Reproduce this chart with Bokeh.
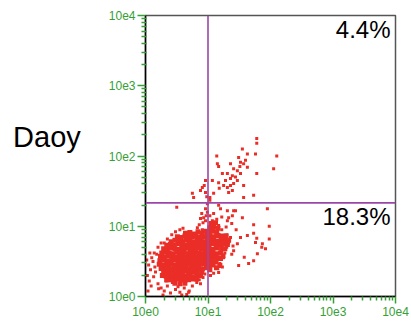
import numpy as np
from bokeh.plotting import figure
from bokeh.models import Range1d, FixedTicker, Span, Label
from bokeh.embed import file_html
from bokeh.resources import INLINE

# ---- chart texts / gates ----
sample_name = "Daoy"
quad_upper_right = "4.4%"
quad_lower_right = "18.3%"
x_gate = 10.0
y_gate = 21.5
tick_values = [1, 10, 100, 1000, 10000]
tick_labels = ["10e0", "10e1", "10e2", "10e3", "10e4"]

# ---- events as log10 (decade) intensities ----
# dense main population
core_x = [0.64,0.71,0.77,0.84,0.90,0.96,
          0.51,0.57,0.63,0.69,0.75,0.81,0.87,0.93,0.98,
          0.41,0.47,0.53,0.59,0.65,0.71,0.77,0.83,0.89,0.95,0.99,
          0.34,0.40,0.46,0.52,0.58,0.64,0.70,0.76,0.82,0.88,0.94,0.99,
          0.29,0.35,0.41,0.47,0.53,0.59,0.65,0.71,0.77,0.83,0.89,0.95,0.99,
          0.26,0.32,0.38,0.44,0.50,0.56,0.62,0.68,0.74,0.80,0.86,0.92,0.98,
          0.24,0.30,0.36,0.42,0.48,0.54,0.60,0.66,0.72,0.78,0.84,0.90,0.96,0.99,
          0.23,0.29,0.35,0.41,0.47,0.53,0.59,0.65,0.71,0.77,0.83,0.89,0.95,0.99,
          0.22,0.28,0.34,0.40,0.46,0.52,0.58,0.64,0.70,0.76,0.82,0.88,0.94,0.99,
          0.25,0.31,0.37,0.43,0.49,0.55,0.61,0.67,0.73,0.79,0.85,0.91,0.97,
          0.29,0.35,0.41,0.47,0.53,0.59,0.65,0.71,0.77,0.83,0.90,
          0.33,0.39,0.45,0.51,0.57,0.63,0.69,0.75,0.82,
          0.39,0.45,0.51,0.57,0.63,0.69,0.76,
          0.47,0.55,0.63,
          0.34,0.82,0.88,0.27,
          1.02,1.08,1.14,
          1.03,1.09,1.16,1.23,
          1.02,1.08,1.14,1.21,1.28,
          1.01,1.07,1.13,1.20,1.26,
          1.02,1.08,1.15,1.22,
          1.01,1.07,1.13,1.20,
          1.02,1.08,1.15,
          1.01,1.07,1.13,
          1.02,1.08,
          1.03,
          1.03,1.09,1.16,1.05,1.12,1.29,1.33,1.31,1.27,1.24,1.20,1.19,1.14]
core_y = [0.90,0.91,0.89,0.92,0.90,0.93,
          0.85,0.84,0.86,0.84,0.85,0.86,0.84,0.85,0.87,
          0.78,0.80,0.79,0.78,0.80,0.79,0.78,0.80,0.79,0.78,0.81,
          0.73,0.74,0.73,0.75,0.74,0.73,0.74,0.73,0.75,0.74,0.73,0.74,
          0.68,0.67,0.69,0.68,0.67,0.68,0.69,0.67,0.68,0.69,0.68,0.67,0.69,
          0.62,0.63,0.62,0.61,0.63,0.62,0.63,0.61,0.62,0.63,0.62,0.61,0.63,
          0.57,0.56,0.58,0.57,0.56,0.57,0.58,0.56,0.57,0.58,0.56,0.57,0.58,0.57,
          0.51,0.52,0.51,0.50,0.52,0.51,0.52,0.50,0.51,0.52,0.51,0.50,0.52,0.51,
          0.46,0.45,0.47,0.46,0.45,0.46,0.47,0.45,0.46,0.47,0.45,0.46,0.47,0.46,
          0.40,0.41,0.40,0.39,0.41,0.40,0.41,0.39,0.40,0.41,0.40,0.39,0.41,
          0.35,0.34,0.36,0.35,0.34,0.35,0.36,0.34,0.35,0.36,0.35,
          0.29,0.30,0.29,0.28,0.30,0.29,0.30,0.28,0.30,
          0.24,0.23,0.25,0.24,0.23,0.24,0.25,
          0.19,0.18,0.19,
          0.24,0.25,0.30,0.30,
          0.92,0.93,0.91,
          0.86,0.85,0.87,0.86,
          0.80,0.81,0.79,0.80,0.81,
          0.74,0.75,0.73,0.74,0.75,
          0.68,0.67,0.69,0.68,
          0.62,0.63,0.61,0.62,
          0.56,0.57,0.55,
          0.50,0.51,0.49,
          0.44,0.45,
          0.38,
          0.98,0.99,0.97,1.04,1.05,0.86,0.80,0.74,0.68,0.58,0.54,0.44,0.41]

# sparse events around the main population
edge_x = [0.05,0.08,0.03,0.12,0.10,0.15,0.06,0.13,0.18,0.02,0.09,0.04,0.16,0.20,0.14,0.07,
          0.25,0.30,0.35,0.40,0.48,0.55,0.62,0.70,0.58,0.43,0.75,0.82,0.88,0.52,0.66,0.33,
          0.20,0.28,0.21,0.69,0.25,0.35,0.42,0.30,0.48,0.55,0.60,0.92,0.86,0.95,0.80,
          0.86,0.92,0.97,0.90,0.99,0.50]
edge_y = [0.45,0.38,0.30,0.50,0.55,0.42,0.22,0.28,0.60,0.52,0.15,0.08,0.35,0.70,0.62,0.62,
          0.12,0.08,0.15,0.05,0.10,0.06,0.12,0.08,0.02,0.20,0.15,0.20,0.18,0.14,0.03,0.22,
          0.18,0.02,0.11,0.06,0.76,0.82,0.88,0.76,0.92,0.95,0.97,0.27,0.24,0.32,0.26,
          1.02,1.05,1.15,1.18,1.20,1.27]

# events right of the x gate, below the y gate
right_x = [1.30,1.27,1.33,1.25,1.19,1.30,1.36,1.22,1.29,1.17,1.10,1.04,1.07,1.14,1.22,1.33,
           1.03,1.38,1.12,1.17,1.09,1.04,1.23,1.38,1.41,1.47,1.52,1.63,1.73,1.73,1.78,1.76,
           1.87,1.86,1.98,1.98,1.95,1.92,1.79,1.73,1.65,1.49,1.39,1.55,1.44,1.20,1.09,1.31,
           1.31,1.41,1.17,0.96,0.93,0.88,0.96,0.83,0.91,1.45,1.40,1.58]
right_y = [0.70,0.62,0.76,0.55,0.47,0.88,0.84,0.95,0.99,1.01,1.03,0.99,1.08,1.10,1.13,1.12,
           1.15,1.04,0.40,0.34,0.33,0.30,0.42,0.60,0.65,0.75,0.84,0.87,0.90,1.02,0.83,0.77,
           0.75,0.70,0.82,1.00,1.25,0.68,0.61,0.51,0.47,0.44,1.15,1.12,1.22,1.25,1.18,1.08,
           1.22,1.22,1.30,1.25,1.12,1.11,1.08,0.98,0.95,0.95,0.72,0.56]

# events above the y gate
upper_x = [1.78,1.78,1.55,1.63,2.10,2.05,1.76,1.14,1.49,1.52,1.57,1.60,1.36,1.78,1.15,1.17,
           1.41,1.47,1.31,1.23,1.39,1.44,1.47,1.36,1.28,1.17,1.07,1.25,1.31,1.36,1.39,1.33,
           1.57,1.73,1.57,0.96,0.91,0.88,0.75,0.77,0.96,0.98,1.03,1.03,0.99,1.09,1.18,1.41,
           1.52,1.63,1.51,0.94]
upper_y = [2.25,2.18,2.10,2.03,2.00,1.82,2.03,2.00,1.98,1.91,1.89,1.94,1.89,1.75,1.89,1.85,
           1.82,1.79,1.75,1.75,1.72,1.70,1.65,1.68,1.65,1.62,1.65,1.58,1.55,1.58,1.51,1.48,
           1.58,1.44,1.41,1.65,1.55,1.51,1.47,1.41,1.48,1.42,1.41,1.37,1.32,1.47,1.54,1.61,
           1.75,1.84,1.85,1.58]

red = "#ea2e27"
green = "#35a035"
purple = "#9c47a8"

p = figure(frame_width=250, frame_height=281,
           x_axis_type="log", y_axis_type="log",
           x_range=Range1d(1, 10000), y_range=Range1d(1, 10000),
           output_backend="svg", toolbar_location=None,
           min_border_left=145, min_border_right=16,
           min_border_top=15, min_border_bottom=25,
           background_fill_color="white", border_fill_color="white")
p.grid.visible = False
p.outline_line_color = "#555555"
p.outline_line_width = 1.5

minor = []
for base in tick_values[:-1]:
    for m in range(2, 10):
        minor.append(base * m)

for ax in (p.xaxis[0], p.yaxis[0]):
    ax.ticker = FixedTicker(ticks=tick_values, minor_ticks=minor)
    ax.major_label_overrides = dict(zip(tick_values, tick_labels))
    ax.axis_line_color = "black"
    ax.axis_line_width = 1.5
    ax.major_tick_line_color = green
    ax.minor_tick_line_color = green
    ax.major_tick_line_width = 1.5
    ax.minor_tick_line_width = 1.5
    ax.major_label_text_color = green
    ax.major_label_text_font = "Liberation Sans"
    ax.major_label_text_font_size = "12px"
    ax.major_tick_in = 0

p.xaxis.major_tick_out = 7
p.xaxis.minor_tick_out = 4
p.xaxis.minor_tick_in = 0
p.xaxis.major_label_standoff = 3
p.yaxis.major_tick_out = 8
p.yaxis.minor_tick_out = 4
p.yaxis.minor_tick_in = 1
p.yaxis.major_label_standoff = 2

# sample name as a horizontal y-axis label
p.yaxis.axis_label = sample_name + "\n "
p.yaxis.axis_label_orientation = "horizontal"
p.yaxis.axis_label_text_font = "Liberation Sans"
p.yaxis.axis_label_text_font_size = "29px"
p.yaxis.axis_label_text_font_style = "normal"
p.yaxis.axis_label_text_color = "black"
p.yaxis.axis_label_standoff = 25

p.scatter(np.power(10.0, core_x), np.power(10.0, core_y), marker="square",
          size=5, color=red, line_width=0)
for gx, gy in ((edge_x, edge_y), (right_x, right_y), (upper_x, upper_y)):
    p.scatter(np.power(10.0, gx), np.power(10.0, gy), marker="square",
              size=3, color=red, line_width=0)

p.add_layout(Span(location=x_gate, dimension="height", line_color=purple, line_width=1.6))
p.add_layout(Span(location=y_gate, dimension="width", line_color=purple, line_width=1.6))

p.add_layout(Label(x=245, y=254, x_units="screen", y_units="screen", text=quad_upper_right,
                   text_align="right", text_font="Liberation Sans", text_font_size="24px",
                   text_color="black"))
p.add_layout(Label(x=245, y=67, x_units="screen", y_units="screen", text=quad_lower_right,
                   text_align="right", text_font="Liberation Sans", text_font_size="24px",
                   text_color="black"))

open("out.html", "w").write(file_html(p, INLINE))
